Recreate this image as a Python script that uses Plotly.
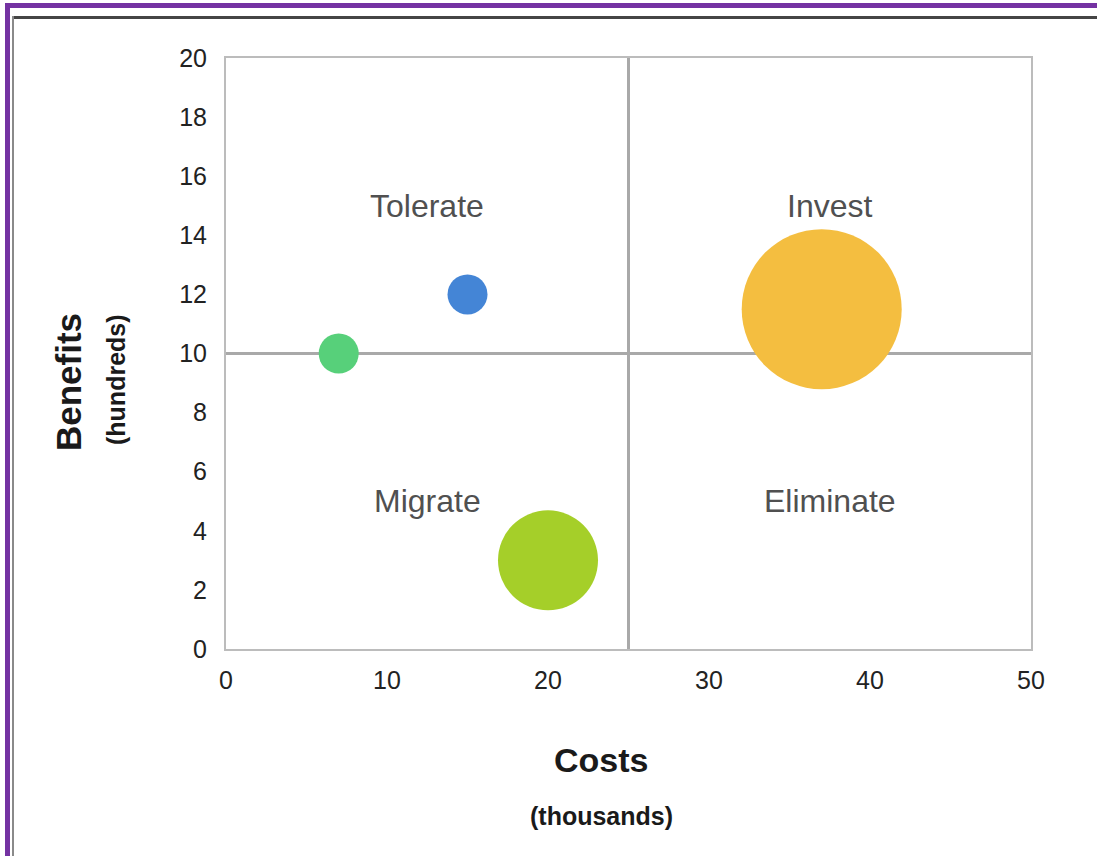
import plotly.graph_objects as go

# Data
names = ["Legacy A", "Legacy B", "Core Platform", "Old System"]
costs = [7, 15, 37, 20]          # thousands
benefits = [10, 12, 11.5, 3]     # hundreds
sizes = [4, 4, 16, 10]           # relative bubble size
colors = ["#57d07a", "#4485d6", "#f4be40", "#a5cf29"]

quad_labels = ["Tolerate", "Invest", "Migrate", "Eliminate"]
quad_x = [12.5, 37.5, 12.5, 37.5]
quad_y = [15, 15, 5, 5]

x_ticks = [0, 10, 20, 30, 40, 50]
y_ticks = [0, 2, 4, 6, 8, 10, 12, 14, 16, 18, 20]

W, H = 1097, 856
L, R, T, B = 226, 1031, 58, 649
FONT = "Liberation Sans, Arial"

def px(x):
    return (x - L) / (R - L)

def py(y):
    return (B - y) / (B - T)

fig = go.Figure()
fig.add_trace(go.Scatter(
    x=costs, y=benefits, mode="markers", text=names,
    marker=dict(size=sizes, sizemode="diameter", sizeref=0.1,
                color=colors, line=dict(width=0), opacity=1),
    hoverinfo="text+x+y", showlegend=False,
))

shapes = [
    dict(type="line", xref="x", yref="y", x0=25, x1=25, y0=0, y1=20,
         line=dict(color="#a9a9a9", width=3), layer="below"),
    dict(type="line", xref="x", yref="y", x0=0, x1=50, y0=10, y1=10,
         line=dict(color="#a9a9a9", width=3), layer="below"),
    # screenshot frame decorations
    dict(type="rect", xref="paper", yref="paper", x0=px(5), x1=px(W + 5),
         y0=py(3), y1=py(8), fillcolor="#7432a2", line=dict(width=0), layer="above"),
    dict(type="rect", xref="paper", yref="paper", x0=px(5), x1=px(10),
         y0=py(3), y1=py(H + 5), fillcolor="#7432a2", line=dict(width=0), layer="above"),
    dict(type="rect", xref="paper", yref="paper", x0=px(12), x1=px(W + 5),
         y0=py(16), y1=py(19), fillcolor="#454545", line=dict(width=0), layer="above"),
    dict(type="rect", xref="paper", yref="paper", x0=px(12), x1=px(14),
         y0=py(16), y1=py(H + 5), fillcolor="#8a8a8a", line=dict(width=0), layer="above"),
]

annotations = []
for t, xx, yy in zip(quad_labels, quad_x, quad_y):
    annotations.append(dict(x=xx, y=yy, xref="x", yref="y", text=t, showarrow=False,
                            xanchor="center", yanchor="middle",
                            font=dict(family=FONT, size=32, color="#505050")))

def title_ann(text, cx, cy, size, angle=0):
    return dict(x=px(cx), y=py(cy), xref="paper", yref="paper", text=text,
                textangle=angle, showarrow=False, xanchor="center", yanchor="middle",
                font=dict(family=FONT, size=size, color="#1a1a1a"))

annotations += [
    title_ann("<b>Costs</b>", 601, 760, 34),
    title_ann("<b>(thousands)</b>", 601, 816, 25),
    title_ann("<b>Benefits</b>", 68, 382, 35, -90),
    title_ann("<b>(hundreds)</b>", 116, 380, 25, -90),
]

fig.update_layout(
    width=W, height=H,
    margin=dict(l=L, r=W - R, t=T, b=H - B),
    paper_bgcolor="white", plot_bgcolor="white",
    shapes=shapes, annotations=annotations,
    font=dict(family=FONT, size=25, color="#222222"),
    xaxis=dict(range=[0, 50], tickvals=x_ticks, showgrid=False, zeroline=False,
               showline=True, mirror=True, linecolor="#bcbcbc", linewidth=2,
               ticks="", ticklabelstandoff=8, fixedrange=True),
    yaxis=dict(range=[0, 20], tickvals=y_ticks, showgrid=False, zeroline=False,
               showline=True, mirror=True, linecolor="#bcbcbc", linewidth=2,
               ticks="", ticklabelstandoff=12, fixedrange=True),
)

fig.write_html("out.html")
